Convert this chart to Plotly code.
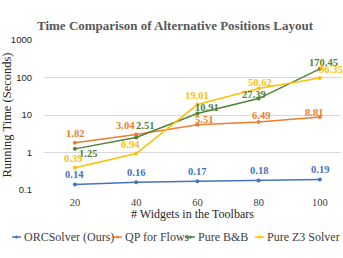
import math
import plotly.graph_objects as go

widgets = [20, 40, 60, 80, 100]
orc = [0.14, 0.16, 0.17, 0.18, 0.19]
qp = [1.82, 3.04, 5.51, 6.49, 8.81]
bb = [1.25, 2.51, 10.91, 27.39, 170.45]
z3 = [0.39, 0.94, 19.01, 50.62, 96.35]
series_names = ["ORCSolver (Ours)", "QP for Flows", "Pure B&B", "Pure Z3 Solver"]
y_ticks = [0.1, 1, 10, 100, 1000]
y_tick_text = ["0.1", "1", "10", "100", "1000"]

colors = ["#4472C4", "#ED7D31", "#548235", "#FFC000"]
# label offsets (pixels) of each value label from its point
label_dx = [
    [0, 0, 0, 0, 0],
    [0, -11, 7, 2, -6],
    [13, 9, 10, -5, 4],
    [-2, -6, 0, 1, 11],
]
label_dy = [
    [-10, -10, -10, -10, -10],
    [-9, -9, -5, -7, -5],
    [5, -12, -6, -4, -6],
    [-9, -9, -9, -6, -9],
]

SERIF = "Liberation Serif"
SANS = "Liberation Sans"

W, H = 343, 258
L, R, T, B = 44, 2, 40, 258 - 190
PW, PH = W - L - R, H - T - B

fig = go.Figure()
for name, vals, col in zip(series_names, [orc, qp, bb, z3], colors):
    fig.add_trace(go.Scatter(
        x=widgets, y=vals, name=name, mode="lines+markers",
        line=dict(color=col, width=1.5),
        marker=dict(color=col, size=4),
        cliponaxis=False,
        showlegend=False,
        hoverinfo="skip",
    ))

# value labels (annotations on a log axis take log10 of y)
for i, (vals, col) in enumerate(zip([orc, qp, bb, z3], colors)):
    for j, (xv, yv) in enumerate(zip(widgets, vals)):
        fig.add_annotation(
            x=xv, y=math.log10(yv), xref="x", yref="y",
            text=f"<b>{yv:.2f}</b>", showarrow=False,
            xanchor="center", yanchor="middle",
            xshift=label_dx[i][j], yshift=-label_dy[i][j],
            font=dict(family=SERIF, size=10.5, color=col),
        )

fig.update_layout(
    width=W, height=H,
    margin=dict(l=L, r=R, t=T, b=B, autoexpand=False),
    paper_bgcolor="white", plot_bgcolor="white",
    title=dict(text="<b>Time Comparison of Alternative Positions Layout</b>",
               font=dict(family=SERIF, size=13, color="#595959"),
               x=175 / W, xref="container", xanchor="center",
               y=1 - 25 / H, yref="container", yanchor="middle"),
)
fig.update_xaxes(
    range=[9.9, 106.9], tickvals=widgets, ticktext=[str(w) for w in widgets],
    showgrid=False, zeroline=False, showline=False, ticks="", automargin=False,
    tickfont=dict(family=SERIF, size=10.5, color="#404040"),
    ticklabelstandoff=4,
    title=dict(text="# Widgets in the Toolbars", standoff=1,
               font=dict(family=SERIF, size=12, color="#262626")),
)
fig.update_yaxes(
    type="log", range=[-1, 3], tickvals=y_ticks, ticktext=y_tick_text,
    showgrid=True, gridcolor="#D9D9D9", gridwidth=1, zeroline=False, showline=False, ticks="",
    automargin=False,
    tickfont=dict(family=SANS, size=9.5, color="#262626"),
    ticklabelstandoff=11,
    title=dict(text="Running Time (Seconds)", standoff=4,
               font=dict(family=SERIF, size=12.5, color="#262626")),
)

# custom compact legend (positions in pixels)
leg_y_px = 237
ly = (T + PH - leg_y_px) / PH
starts = [12, 113, 186, 255]
for name, col, sx in zip(series_names, colors, starts):
    x0 = (sx - L) / PW
    x1 = (sx + 9 - L) / PW
    fig.add_shape(type="line", xref="paper", yref="paper", x0=x0, x1=x1, y0=ly, y1=ly,
                  line=dict(color=col, width=1.5))
    xm = (sx + 4.5 - L) / PW
    fig.add_shape(type="circle", xref="paper", yref="paper",
                  x0=xm - 1.5 / PW, x1=xm + 1.5 / PW, y0=ly - 1.5 / PH, y1=ly + 1.5 / PH,
                  fillcolor=col, line=dict(width=0))
    fig.add_annotation(text=name, xref="paper", yref="paper", x=(sx + 9.5 - L) / PW, y=ly,
                       xanchor="left", yanchor="middle", showarrow=False,
                       font=dict(family=SERIF, size=12, color="#404040"))

fig.write_html("out.html", config={"displayModeBar": False},
               post_script="document.body.style.margin='0px';")
